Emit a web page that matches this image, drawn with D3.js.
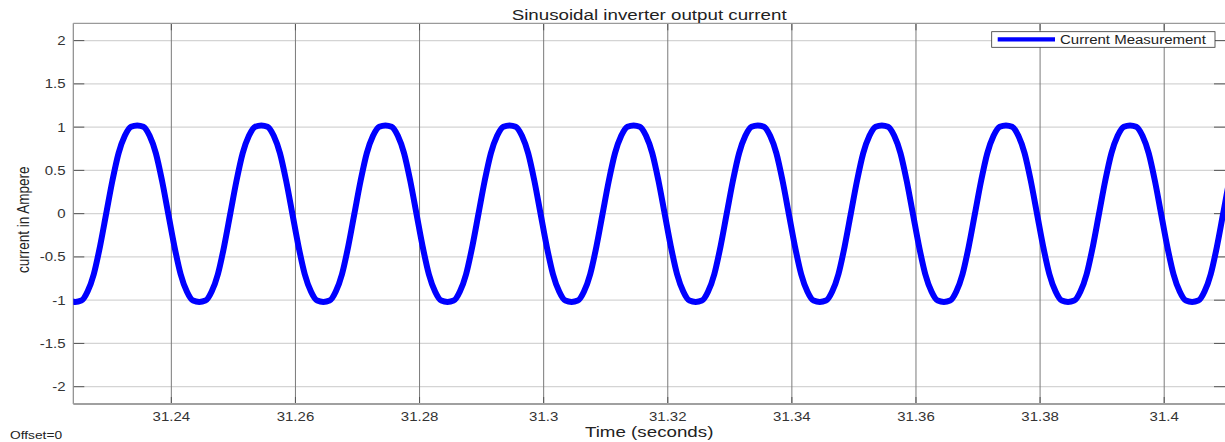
<!DOCTYPE html>
<html><head><meta charset="utf-8">
<script src="https://cdn.jsdelivr.net/npm/d3@7"></script>
<style>
html,body{margin:0;padding:0;background:#fff;}
svg{display:block;font-family:"Liberation Sans",Arial,Helvetica,sans-serif;}
</style>
</head><body>
<svg id="chart" width="1225" height="442"></svg>
<script>
// ---------- data ----------
const title = "Sinusoidal inverter output current";
const yLabel = "current in Ampere";
const xLabel = "Time (seconds)";
const offsetLabel = "Offset=0";
const seriesName = "Current Measurement";

const xTicks = [31.24, 31.26, 31.28, 31.30, 31.32, 31.34, 31.36, 31.38, 31.40];
const xTickLabels = ["31.24", "31.26", "31.28", "31.3", "31.32", "31.34", "31.36", "31.38", "31.4"];
const yTicks = [-2, -1.5, -1, -0.5, 0, 0.5, 1, 1.5, 2];
const yTickLabels = ["-2", "-1.5", "-1", "-0.5", "0", "0.5", "1", "1.5", "2"];
const xDomain = [31.2242, 31.4098];
const yDomain = [-2.2, 2.2];

// sampled measurement (1 ms sample period)
const sampleStart = 31.2235;
const sampleStep = 0.001;
const current = [
  -1.005, -1.02, -1.005, -0.9, -0.7, -0.38,
  0, 0.38, 0.7, 0.9, 1.005, 1.02, 1.005, 0.9, 0.7, 0.38, 0, -0.38, -0.7, -0.9, -1.005, -1.02, -1.005, -0.9, -0.7, -0.38,
  0, 0.38, 0.7, 0.9, 1.005, 1.02, 1.005, 0.9, 0.7, 0.38, 0, -0.38, -0.7, -0.9, -1.005, -1.02, -1.005, -0.9, -0.7, -0.38,
  0, 0.38, 0.7, 0.9, 1.005, 1.02, 1.005, 0.9, 0.7, 0.38, 0, -0.38, -0.7, -0.9, -1.005, -1.02, -1.005, -0.9, -0.7, -0.38,
  0, 0.38, 0.7, 0.9, 1.005, 1.02, 1.005, 0.9, 0.7, 0.38, 0, -0.38, -0.7, -0.9, -1.005, -1.02, -1.005, -0.9, -0.7, -0.38,
  0, 0.38, 0.7, 0.9, 1.005, 1.02, 1.005, 0.9, 0.7, 0.38, 0, -0.38, -0.7, -0.9, -1.005, -1.02, -1.005, -0.9, -0.7, -0.38,
  0, 0.38, 0.7, 0.9, 1.005, 1.02, 1.005, 0.9, 0.7, 0.38, 0, -0.38, -0.7, -0.9, -1.005, -1.02, -1.005, -0.9, -0.7, -0.38,
  0, 0.38, 0.7, 0.9, 1.005, 1.02, 1.005, 0.9, 0.7, 0.38, 0, -0.38, -0.7, -0.9, -1.005, -1.02, -1.005, -0.9, -0.7, -0.38,
  0, 0.38, 0.7, 0.9, 1.005, 1.02, 1.005, 0.9, 0.7, 0.38, 0, -0.38, -0.7, -0.9, -1.005, -1.02, -1.005, -0.9, -0.7, -0.38,
  0, 0.38, 0.7, 0.9, 1.005, 1.02, 1.005, 0.9, 0.7, 0.38, 0, -0.38, -0.7, -0.9, -1.005, -1.02, -1.005, -0.9, -0.7, -0.38,
  0, 0.38, 0.7
];

// ---------- layout ----------
const plot = {left: 73.3, top: 23.3, right: 1225, bottom: 404};
const SX = 1.25; // horizontal stretch of the original picture's text

const svg = d3.select("#chart");
const x = d3.scaleLinear().domain(xDomain).range([plot.left, plot.right]);
const y = d3.scaleLinear().domain(yDomain).range([plot.bottom, plot.top]);

const data = current.map((v, i) => ({t: sampleStart + i * sampleStep, v}));

svg.append("defs").append("clipPath").attr("id", "clip")
  .append("rect").attr("x", plot.left).attr("y", plot.top)
  .attr("width", plot.right - plot.left).attr("height", plot.bottom - plot.top);

// horizontal grid
svg.append("g").selectAll("line").data(yTicks).join("line")
  .attr("x1", plot.left).attr("x2", plot.right)
  .attr("y1", d => y(d)).attr("y2", d => y(d))
  .attr("stroke", "#d4d4d4").attr("stroke-width", 1.3);

// vertical grid
svg.append("g").selectAll("line").data(xTicks).join("line")
  .attr("x1", d => x(d)).attr("x2", d => x(d))
  .attr("y1", plot.top).attr("y2", plot.bottom)
  .attr("stroke", "#7a7a7a").attr("stroke-width", 1);

// ticks (inward)
const tickG = svg.append("g").attr("stroke", "#555").attr("stroke-width", 1);
tickG.selectAll(".yl").data(yTicks).join("line")
  .attr("x1", plot.left).attr("x2", plot.left + 11)
  .attr("y1", d => y(d)).attr("y2", d => y(d));
tickG.selectAll(".yr").data(yTicks).join("line")
  .attr("x1", plot.right - 11).attr("x2", plot.right)
  .attr("y1", d => y(d)).attr("y2", d => y(d));
tickG.selectAll(".xb").data(xTicks).join("line")
  .attr("x1", d => x(d)).attr("x2", d => x(d))
  .attr("y1", plot.bottom).attr("y2", plot.bottom - 7);
tickG.selectAll(".xt").data(xTicks).join("line")
  .attr("x1", d => x(d)).attr("x2", d => x(d))
  .attr("y1", plot.top).attr("y2", plot.top + 7);

// axes box
svg.append("line").attr("x1", plot.left).attr("x2", plot.left)
  .attr("y1", plot.top).attr("y2", plot.bottom)
  .attr("stroke", "#8a8a8a").attr("stroke-width", 1.2);
svg.append("line").attr("x1", plot.left).attr("x2", plot.right)
  .attr("y1", plot.top).attr("y2", plot.top)
  .attr("stroke", "#9a9a9a").attr("stroke-width", 1.3);
svg.append("line").attr("x1", plot.left).attr("x2", plot.right)
  .attr("y1", plot.bottom).attr("y2", plot.bottom)
  .attr("stroke", "#a0a0a0").attr("stroke-width", 2);

// data line
const line = d3.line().x(d => x(d.t)).y(d => y(d.v)).curve(d3.curveMonotoneX);
svg.append("path").datum(data)
  .attr("clip-path", "url(#clip)")
  .attr("d", line)
  .attr("fill", "none").attr("stroke", "#0000ff")
  .attr("stroke-width", 6).attr("stroke-linejoin", "round");

// text helper (stretched horizontally like the original)
function txt(px, py, s, size, anchor, color, extra) {
  return svg.append("text")
    .attr("transform", `translate(${px},${py}) scale(${SX},1)` + (extra || ""))
    .attr("text-anchor", anchor).attr("font-size", size)
    .attr("fill", color).text(s);
}

// tick labels
yTicks.forEach((d, i) => txt(65.5, y(d) + 4.5, yTickLabels[i], 12, "end", "#333"));
xTicks.forEach((d, i) => txt(x(d), 420.5, xTickLabels[i], 12, "middle", "#333"));

// titles
txt((plot.left + plot.right) / 2, 20.3, title, 15, "middle", "#222");
txt((plot.left + plot.right) / 2, 437, xLabel, 15, "middle", "#222");
txt(28.5, (plot.top + plot.bottom) / 2 + 6, yLabel, 13.5, "middle", "#222", " rotate(-90)");
txt(10, 439, offsetLabel, 11, "start", "#222");

// legend
const lg = svg.append("g");
lg.append("rect").attr("x", 991.7).attr("y", 31.7).attr("width", 223.3).attr("height", 15.6)
  .attr("fill", "#fff").attr("stroke", "#333").attr("stroke-width", 0.8);
lg.append("line").attr("x1", 997.7).attr("x2", 1055).attr("y1", 39.4).attr("y2", 39.4)
  .attr("stroke", "#0000ff").attr("stroke-width", 4.3);
txt(1060, 44, seriesName, 12, "start", "#222");
</script>
</body></html>
